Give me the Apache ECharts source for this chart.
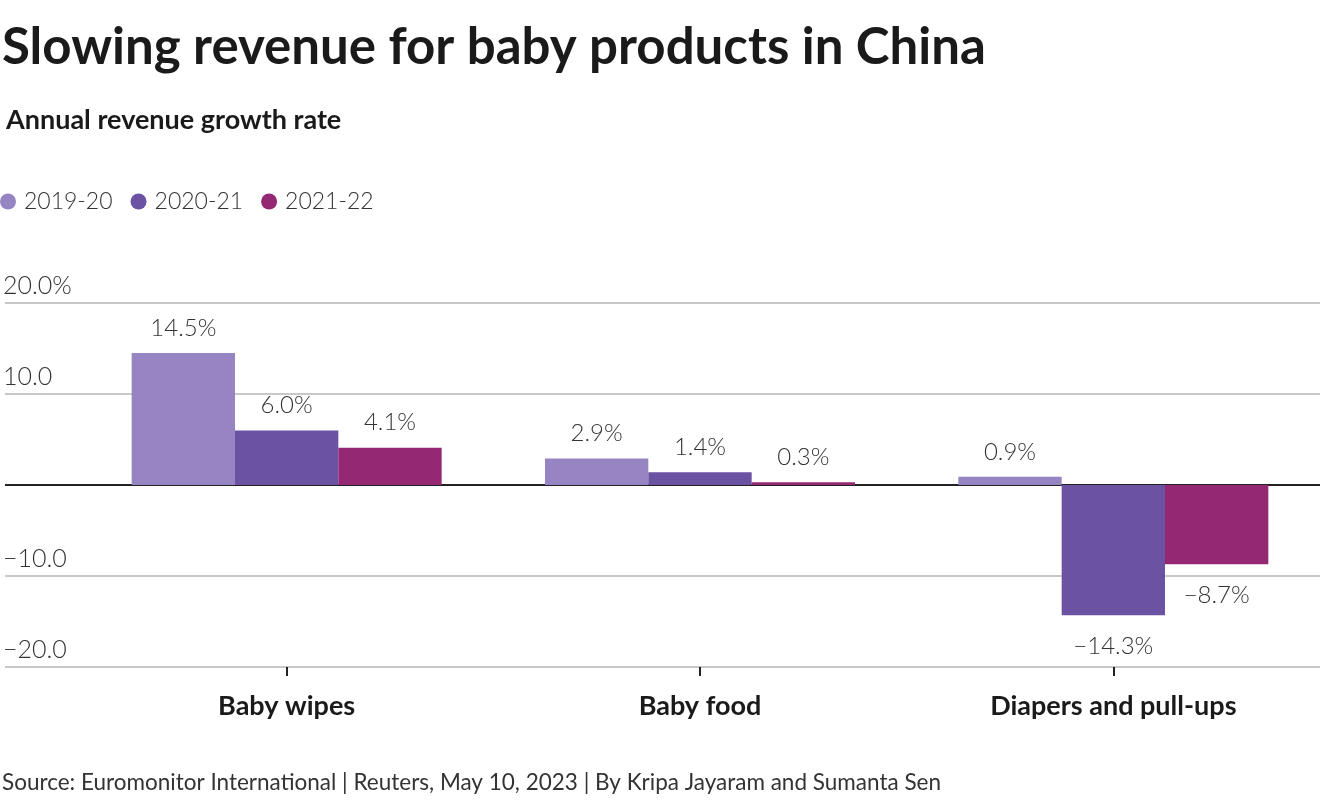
<!DOCTYPE html>
<html>
<head>
<meta charset="utf-8">
<script src="https://cdn.jsdelivr.net/npm/echarts@6/dist/echarts.min.js"></script>
<style>
html,body{margin:0;padding:0;background:#fff;}
#chart{width:1320px;height:800px;}
</style>
</head>
<body>
<div id="chart"></div>
<script>
const categories = ['Baby wipes', 'Baby food', 'Diapers and pull-ups'];
const seriesNames = ['2019-20', '2020-21', '2021-22'];
const values2019_20 = [14.5, 2.9, 0.9];
const values2020_21 = [6.0, 1.4, -14.3];
const values2021_22 = [4.1, 0.3, -8.7];
const yTicks = [-20, -10, 0, 10, 20];
const colors = ['#9784c2', '#6b52a3', '#952873'];

const FONT = 'Lato, "Source Sans Pro", "Noto Sans", sans-serif';
const fmtNum = v => (v < 0 ? '\u2212' : '') + Math.abs(v).toFixed(1);

function fmtTick(v) {
  if (v === 0) return '';
  if (v === yTicks[yTicks.length - 1]) return fmtNum(v) + '%';
  return fmtNum(v);
}

const allSeries = [values2019_20, values2020_21, values2021_22].map((vals, i) => ({
  name: seriesNames[i],
  type: 'bar',
  xAxisIndex: 1,
  yAxisIndex: 1,
  barGap: '0%',
  barCategoryGap: '25%',
  itemStyle: { color: colors[i] },
  data: vals.map(v => ({
    value: v,
    label: {
      show: true,
      position: v < 0 ? 'bottom' : 'top',
      distance: v < 0 ? 19 : 13,
      formatter: p => fmtNum(p.value) + '%',
      fontFamily: FONT,
      fontSize: 24,
      fontWeight: 300,
      color: '#333'
    }
  }))
}));

const chart = echarts.init(document.getElementById('chart'));
chart.setOption({
  animation: false,
  backgroundColor: '#fff',
  title: [
    { text: 'Slowing revenue for baby products in China', left: -3, top: 17,
      textStyle: { fontFamily: FONT, fontSize: 51, fontWeight: 'bold', color: '#1a1a1a' } },
    { text: 'Annual revenue growth rate', left: 1, top: 102,
      textStyle: { fontFamily: FONT, fontSize: 27, fontWeight: 'bold', color: '#1a1a1a' } },
    { text: 'Source: Euromonitor International | Reuters, May 10, 2023 | By Kripa Jayaram and Sumanta Sen', left: -3, top: 766,
      textStyle: { fontFamily: FONT, fontSize: 22.5, fontWeight: 'normal', color: '#333' } }
  ],
  legend: {
    left: 0, top: 190, padding: 0,
    icon: 'circle', itemWidth: 16, itemHeight: 16, itemGap: 18,
    data: seriesNames,
    textStyle: { fontFamily: FONT, fontSize: 23, fontWeight: 300, color: '#333', padding: [0, 0, 0, 3] }
  },
  grid: [
    { left: 0, right: 0, top: 303, bottom: 133, containLabel: false },
    { left: 80, right: 0, top: 303, bottom: 133, containLabel: false }
  ],
  xAxis: [
    { gridIndex: 0, type: 'value', show: false, min: 0, max: 1 },
    { gridIndex: 1, type: 'category', data: categories,
      axisLine: { show: false, onZero: false },
      axisTick: { show: true, alignWithLabel: true, length: 9, lineStyle: { color: '#222', width: 2 } },
      axisLabel: { margin: 26, fontFamily: FONT, fontSize: 27, fontWeight: 'bold', color: '#1a1a1a' } }
  ],
  yAxis: [
    { gridIndex: 0, type: 'value', min: -20, max: 20, interval: 10,
      axisLine: { show: false }, axisTick: { show: false },
      axisLabel: { inside: true, margin: -2, verticalAlign: 'bottom', padding: [0, 0, 5, 0],
        formatter: fmtTick, fontFamily: FONT, fontSize: 25, fontWeight: 300, color: '#333' },
      splitLine: { show: true, lineStyle: { color: ['#c8c8c8', '#c8c8c8', '#222', '#c8c8c8', '#c8c8c8'], width: 2 } } },
    { gridIndex: 1, type: 'value', min: -20, max: 20, interval: 10, show: false,
      splitLine: { show: false } }
  ],
  series: allSeries
});
</script>
</body>
</html>
